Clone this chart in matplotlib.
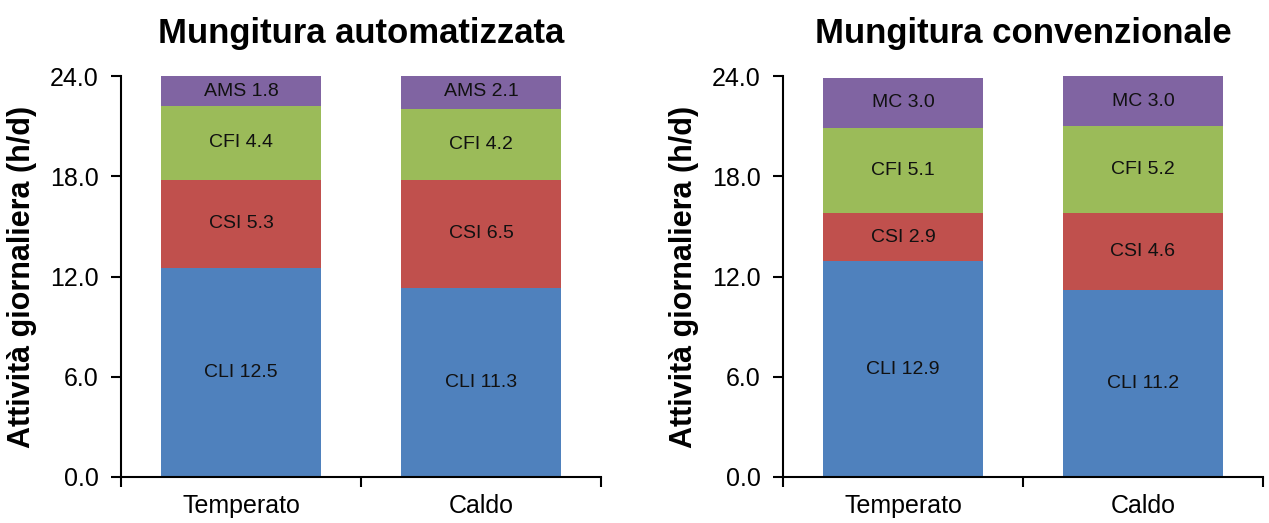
import matplotlib.pyplot as plt
from matplotlib.ticker import FormatStrFormatter, FixedLocator

plt.rcParams['font.family'] = ['Liberation Sans', 'DejaVu Sans']

categories = ["Temperato", "Caldo"]

# Mungitura automatizzata
ams_cli = [12.5, 11.3]
ams_csi = [5.3, 6.5]
ams_cfi = [4.4, 4.2]
ams_ams = [1.8, 2.1]

# Mungitura convenzionale
mc_cli = [12.9, 11.2]
mc_csi = [2.9, 4.6]
mc_cfi = [5.1, 5.2]
mc_mc = [3.0, 3.0]

colors = ['#4F81BD', '#C0504D', '#9BBB59', '#8064A2']

fig = plt.figure(figsize=(12.69, 5.23), dpi=100)
ax1 = fig.add_axes([121 / 1269, 46 / 523, 480 / 1269, 401 / 523])
ax2 = fig.add_axes([783 / 1269, 46 / 523, 480 / 1269, 401 / 523])


def draw(ax, series, names, title):
    x = range(len(categories))
    bottom = [0.0] * len(categories)
    for vals, name, col in zip(series, names, colors):
        ax.bar(x, vals, bottom=bottom, width=0.667, color=col)
        for i, v in enumerate(vals):
            ax.text(i, bottom[i] + v / 2, f"{name} {v:.1f}", ha='center',
                    va='center', fontsize=14, color='#111111')
        bottom = [b + v for b, v in zip(bottom, vals)]
    ax.set_xlim(-0.5, 1.5)
    ax.set_ylim(0, 24)
    ax.set_yticks([0, 6, 12, 18, 24])
    ax.yaxis.set_major_formatter(FormatStrFormatter('%.1f'))
    ax.xaxis.set_major_locator(FixedLocator([-0.5, 0.5, 1.5]))
    ax.xaxis.set_major_formatter(plt.NullFormatter())
    ax.xaxis.set_minor_locator(FixedLocator([0, 1]))
    ax.set_xticklabels(categories, minor=True)
    ax.tick_params(axis='x', which='minor', length=0, labelsize=18, pad=12)
    ax.tick_params(axis='x', which='major', length=7, width=1.5, direction='out')
    ax.tick_params(axis='y', length=7, width=1.5, direction='out', labelsize=18, pad=9)
    for s in ['top', 'right']:
        ax.spines[s].set_visible(False)
    for s in ['left', 'bottom']:
        ax.spines[s].set_linewidth(1.5)
    ax.set_ylabel("Attività giornaliera (h/d)", fontsize=22, fontweight='bold')
    ax.yaxis.set_label_coords(-0.176, 0.5)
    ax.set_title(title, fontsize=25, fontweight='bold', pad=24)


draw(ax1, [ams_cli, ams_csi, ams_cfi, ams_ams], ['CLI', 'CSI', 'CFI', 'AMS'],
     "Mungitura automatizzata")
draw(ax2, [mc_cli, mc_csi, mc_cfi, mc_mc], ['CLI', 'CSI', 'CFI', 'MC'],
     "Mungitura convenzionale")

fig.savefig("out.png", dpi=100)
